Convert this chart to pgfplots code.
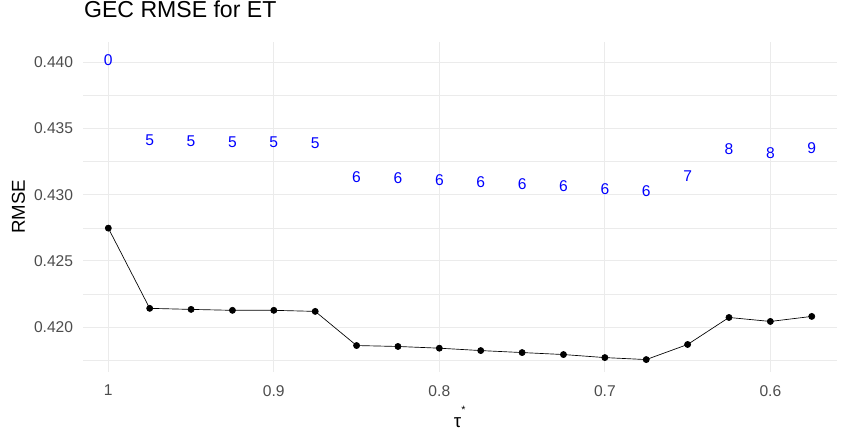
\documentclass[border=0pt]{standalone}
\usepackage{fontspec}
\setmainfont{Liberation Sans}
\usepackage{pgfplots}
\pgfplotsset{compat=1.18}
\usepackage{pgfplotstable}

\definecolor{gridgray}{RGB}{235,235,235}
\definecolor{tickgray}{RGB}{77,77,77}

% tau, RMSE, label, label height
\pgfplotstableread{
tau   rmse     k  ly
1.000 0.42748  0  0.44018
0.975 0.42142  5  0.43412
0.950 0.42134  5  0.43404
0.925 0.42127  5  0.43397
0.900 0.42127  5  0.43397
0.875 0.42119  5  0.43389
0.850 0.41861  6  0.43131
0.825 0.41854  6  0.43124
0.800 0.41841  6  0.43111
0.775 0.41823  6  0.43093
0.750 0.41808  6  0.43078
0.725 0.41793  6  0.43063
0.700 0.41770  6  0.43040
0.675 0.41755  6  0.43025
0.650 0.41869  7  0.43139
0.625 0.42073  8  0.43343
0.600 0.42043  8  0.43313
0.575 0.42081  9  0.43351
}\gecdata

\begin{document}
\begin{tikzpicture}
\useasboundingbox (-62pt,-52pt) rectangle (573.2pt,278.7pt);
\begin{axis}[
    scale only axis,
    width=565.5pt, height=247pt,
    x dir=reverse,
    xmin=0.5599, xmax=1.0155,
    ymin=0.41664, ymax=0.44152,
    xtick={0.6,0.7,0.8,0.9,1},
    xticklabels={0.6,0.7,0.8,0.9,1},
    ytick={0.420,0.425,0.430,0.435,0.440},
    yticklabels={0.420,0.425,0.430,0.435,0.440},
    minor ytick={0.4175,0.4225,0.4275,0.4325,0.4375},
    grid=both,
    major grid style={draw=gridgray, line width=0.8pt},
    minor grid style={draw=gridgray, line width=0.5pt},
    axis line style={draw=none},
    major tick length=0pt, minor tick length=0pt,
    /pgf/number format/assume math mode=true,
    ticklabel style={font=\fontsize{11.7}{14}\selectfont, text=tickgray, inner sep=0pt},
    yticklabel style={anchor=east, xshift=-7pt},
    xticklabel style={anchor=north, yshift=-10pt},
    title={GEC RMSE for ET},
    title style={at={(axis description cs:0.0016,1.0504)}, anchor=base west, inner sep=0pt,
        font=\fontsize{17.3}{20}\selectfont},
    ylabel={RMSE},
    every axis y label/.style={at={(axis description cs:-0.0852,0.5)}, rotate=90, anchor=center,
        inner sep=0pt, font=\fontsize{14}{16}\selectfont},
    xlabel={τ\raisebox{0.75em}{\fontsize{8}{9}\selectfont *}},
    every axis x label/.style={at={(axis description cs:0.5,-0.1709)}, anchor=base,
        inner sep=0pt, font=\fontsize{14}{16}\selectfont},
    clip=false,
]
\addplot[black, line width=0.5pt, mark=*, mark size=2.3pt] table[x=tau, y=rmse] {\gecdata};
\addplot[draw=none, mark=none, nodes near coords, point meta=explicit symbolic,
    nodes near coords align=center,
    every node near coord/.append style={text=blue, inner sep=0pt, anchor=center,
        font=\fontsize{11.7}{14}\selectfont}]
    table[x=tau, y=ly, meta=k] {\gecdata};
\end{axis}
\end{tikzpicture}
\end{document}
